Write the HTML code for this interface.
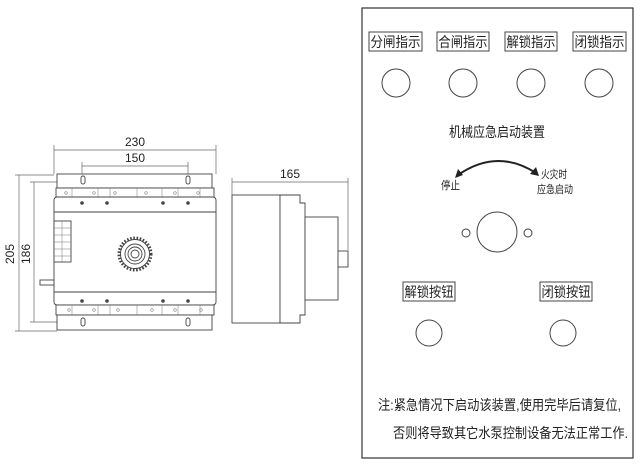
<!DOCTYPE html>
<html><head><meta charset="utf-8"><style>
html,body{margin:0;padding:0;background:#fff;}
svg{display:block;}
text{font-family:"Liberation Sans","Noto Sans CJK SC",sans-serif;fill:#222;}
</style></head><body>
<svg width="641" height="465" viewBox="0 0 641 465" xmlns="http://www.w3.org/2000/svg">
<g stroke="#666" stroke-width="0.7" fill="none">
<line x1="54" y1="150" x2="216" y2="150"/><line x1="54" y1="145" x2="54" y2="174"/><line x1="216" y1="145" x2="216" y2="174"/>
<line x1="82" y1="166" x2="188" y2="166"/><line x1="82" y1="162" x2="82" y2="178"/><line x1="188" y1="162" x2="188" y2="178"/>
<line x1="19" y1="175" x2="19" y2="331"/><line x1="15" y1="175" x2="54" y2="175"/><line x1="15" y1="331" x2="57" y2="331"/>
<line x1="34" y1="182" x2="34" y2="322"/><line x1="30" y1="182" x2="80" y2="182"/><line x1="30" y1="322" x2="80" y2="322"/>
<line x1="232" y1="182" x2="348" y2="182"/><line x1="232" y1="178" x2="232" y2="195"/><line x1="348" y1="178" x2="348" y2="250"/>
</g>
<g stroke="#444" stroke-width="0.9" fill="#fff">
<rect x="57" y="174" width="155" height="14"/>
<rect x="56" y="188" width="158" height="10"/>
<rect x="54" y="197" width="162" height="108" rx="3"/>
<line x1="54" y1="212" x2="216" y2="212"/><line x1="54" y1="292" x2="216" y2="292"/>
<rect x="56" y="305" width="158" height="10"/>
<rect x="57" y="315" width="155" height="15"/>
<rect x="40" y="280" width="14" height="5"/>
<rect x="54" y="221" width="17" height="41"/>
<rect x="81" y="176" width="4" height="8" rx="2"/><rect x="186" y="176" width="4" height="8" rx="2"/>
<rect x="81" y="318" width="4" height="8" rx="2"/><rect x="186" y="318" width="4" height="8" rx="2"/>
<circle cx="135" cy="254" r="16" stroke-width="3" stroke-dasharray="1.6 1.6"/>
<circle cx="135" cy="254" r="14.5"/>
<circle cx="135" cy="254" r="10"/><circle cx="135" cy="254" r="7"/><circle cx="135" cy="254" r="4"/>
<rect x="232" y="195" width="48" height="128"/>
<path d="M280 195 H300 V203 H305 V315 H300 V323 H280 Z"/>
<rect x="305" y="217" width="33" height="83"/>
<rect x="338" y="251" width="10" height="16"/>
<rect x="362" y="8" width="271" height="450" stroke="#333" stroke-width="1.2"/>
</g>
<g fill="#444">
<circle cx="82" cy="203" r="1.8"/><circle cx="107" cy="203" r="1.8"/><circle cx="163" cy="203" r="1.8"/><circle cx="188" cy="203" r="1.8"/>
<circle cx="82" cy="301" r="1.8"/><circle cx="107" cy="301" r="1.8"/><circle cx="163" cy="301" r="1.8"/><circle cx="188" cy="301" r="1.8"/>
</g>
<g fill="none" stroke="#888" stroke-width="0.6">
<circle cx="66" cy="193" r="1.3"/><circle cx="94" cy="193" r="1.3"/><circle cx="115" cy="193" r="1.3"/><circle cx="146" cy="193" r="1.3"/><circle cx="175" cy="193" r="1.3"/><circle cx="198" cy="193" r="1.3"/>
<circle cx="69" cy="310" r="1.3"/><circle cx="94" cy="310" r="1.3"/><circle cx="118" cy="310" r="1.3"/><circle cx="152" cy="310" r="1.3"/><circle cx="175" cy="310" r="1.3"/><circle cx="201" cy="310" r="1.3"/>
</g>
<g stroke="#777" stroke-width="0.5">
<line x1="62" y1="221" x2="62" y2="262"/>
<line x1="54" y1="228" x2="71" y2="228"/><line x1="54" y1="235" x2="71" y2="235"/><line x1="54" y1="242" x2="71" y2="242"/><line x1="54" y1="249" x2="71" y2="249"/><line x1="54" y1="256" x2="71" y2="256"/>
<line x1="72" y1="188" x2="72" y2="198"/><line x1="98" y1="188" x2="98" y2="198"/><line x1="110" y1="188" x2="110" y2="198"/><line x1="137" y1="188" x2="137" y2="198"/><line x1="162" y1="188" x2="162" y2="198"/><line x1="178" y1="188" x2="178" y2="198"/><line x1="200" y1="188" x2="200" y2="198"/>
<line x1="72" y1="305" x2="72" y2="315"/><line x1="98" y1="305" x2="98" y2="315"/><line x1="110" y1="305" x2="110" y2="315"/><line x1="137" y1="305" x2="137" y2="315"/><line x1="162" y1="305" x2="162" y2="315"/><line x1="178" y1="305" x2="178" y2="315"/><line x1="200" y1="305" x2="200" y2="315"/>
</g>
<g font-size="12" text-anchor="middle">
<text x="135" y="146">230</text>
<text x="135" y="162">150</text>
<text x="290" y="178">165</text>
<text transform="translate(14,254) rotate(-90)">205</text>
<text transform="translate(30,254) rotate(-90)">186</text>
</g>
<g stroke="#444" stroke-width="1" fill="none">
<rect x="369" y="32" width="53" height="19"/><rect x="437" y="32" width="52" height="19"/><rect x="505" y="32" width="52" height="19"/><rect x="573" y="32" width="53" height="19"/>
<circle cx="396" cy="83" r="14"/><circle cx="463" cy="83" r="14"/><circle cx="531" cy="83" r="14"/><circle cx="599" cy="83" r="14"/>
<circle cx="497" cy="232" r="20"/><circle cx="466" cy="233" r="4"/><circle cx="528" cy="233" r="4"/>
<rect x="403" y="282" width="52" height="19"/><rect x="540" y="282" width="52" height="19"/>
<circle cx="429" cy="333" r="13"/><circle cx="563" cy="333" r="13"/>
<path d="M458 175 Q497 148 536 173" stroke="#222" stroke-width="2"/>
</g>
<path d="M455 178 L458 169 L463 175 Z M539 176 L530 174 L536 167 Z" fill="#222"/>
<g font-size="14" text-anchor="middle">
<text x="395.5" y="47" textLength="50" lengthAdjust="spacingAndGlyphs">分闸指示</text>
<text x="463" y="47" textLength="49" lengthAdjust="spacingAndGlyphs">合闸指示</text>
<text x="531" y="47" textLength="49" lengthAdjust="spacingAndGlyphs">解锁指示</text>
<text x="599.5" y="47" textLength="50" lengthAdjust="spacingAndGlyphs">闭锁指示</text>
<text x="497" y="137" textLength="96" lengthAdjust="spacingAndGlyphs">机械应急启动装置</text>
<text x="429" y="297" textLength="49" lengthAdjust="spacingAndGlyphs">解锁按钮</text>
<text x="566" y="297" textLength="49" lengthAdjust="spacingAndGlyphs">闭锁按钮</text>
</g>
<g font-size="11">
<text x="441" y="189" textLength="19" lengthAdjust="spacingAndGlyphs">停止</text>
<text x="541" y="178" textLength="26" lengthAdjust="spacingAndGlyphs">火灾时</text>
<text x="537" y="193" textLength="36" lengthAdjust="spacingAndGlyphs">应急启动</text>
</g>
<g font-size="14">
<text x="378" y="410" textLength="243" lengthAdjust="spacingAndGlyphs">注:紧急情况下启动该装置,使用完毕后请复位,</text>
<text x="393" y="438" textLength="235" lengthAdjust="spacingAndGlyphs">否则将导致其它水泵控制设备无法正常工作.</text>
</g>
</svg>
</body></html>
